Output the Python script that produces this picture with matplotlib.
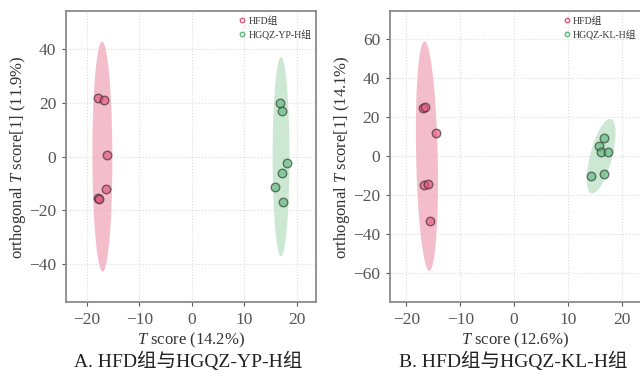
import numpy as np
import matplotlib
matplotlib.use("Agg")
import matplotlib.pyplot as plt
from matplotlib.lines import Line2D

plt.rcParams['font.family'] = ['Liberation Serif', 'Noto Sans CJK SC']
plt.rcParams['mathtext.fontset'] = 'custom'
plt.rcParams['mathtext.rm'] = 'Liberation Serif'
plt.rcParams['mathtext.it'] = 'Liberation Serif:italic'

# panel A: HFD vs HGQZ-YP-H
a_hfd_x = [-17.9, -16.8, -16.1, -16.3, -17.8, -17.7]
a_hfd_y = [21.7, 20.9, 0.5, -12.1, -15.4, -15.6]
a_yp_x = [16.9, 17.1, 18.1, 17.1, 15.9, 17.4]
a_yp_y = [19.8, 16.9, -2.4, -6.0, -11.2, -16.9]

# panel B: HFD vs HGQZ-KL-H
b_hfd_x = [-16.9, -16.5, -14.5, -16.8, -16.0, -15.6]
b_hfd_y = [24.6, 25.3, 12.1, -14.7, -14.2, -33.3]
b_kl_x = [16.7, 15.8, 16.2, 17.4, 14.2, 16.6]
b_kl_y = [9.2, 5.3, 2.0, 2.0, -10.0, -9.4]

# confidence ellipses: center x, center y, half width, half height, x shift at top
a_hfd_ell = [-17.05, 0.0, 1.9, 42.7, -0.05]
a_yp_ell = [17.0, 0.0, 1.6, 37.0, 0.0]
b_hfd_ell = [-16.2, 0.0, 2.0, 59.0, -0.45]
b_kl_ell = [16.15, 0.0, 2.1, 19.2, 1.65]

pink_fill = '#f1b2c3'
pink_pt = '#e2577e'
green_fill = '#c3e5cc'
green_pt = '#5cb77a'


def ellipse_xy(e):
    cx, cy, w, h, dx = e
    t = np.linspace(0, 2 * np.pi, 200)
    return cx + w * np.cos(t) + dx * np.sin(t), cy + h * np.sin(t)


def draw_panel(ax, g1, g2, e1, e2, names, xlab, ylab, ylim, yticks, xlim):
    for e, c in [(e1, pink_fill), (e2, green_fill)]:
        ex, ey = ellipse_xy(e)
        ax.fill(ex, ey, color=c, alpha=0.85, lw=0, zorder=1)
    ax.scatter(g1[0], g1[1], s=38, c=pink_pt, alpha=0.65, edgecolors='#3a2a2e',
               linewidths=1.0, zorder=3)
    ax.scatter(g2[0], g2[1], s=38, c=green_pt, alpha=0.65, edgecolors='#2e3a30',
               linewidths=1.0, zorder=3)
    ax.set_xlim(xlim)
    ax.set_ylim(ylim)
    ax.set_xticks([-20, -10, 0, 10, 20])
    ax.set_yticks(yticks)
    ax.grid(color='#dcdcdc', linestyle=':', linewidth=0.8, zorder=0)
    ax.set_axisbelow(True)
    for s in ax.spines.values():
        s.set_color('#8a8a8a')
        s.set_linewidth(1.3)
    ax.tick_params(labelsize=12.5, labelcolor='#555555', color='#555555',
                   length=3, width=0.8, pad=4)
    ax.set_xlabel(xlab, fontsize=12, color='#333333', labelpad=2)
    ax.set_ylabel(ylab, fontsize=12, color='#333333', labelpad=1)
    handles = [Line2D([], [], marker='o', ls='', mfc='none', mec=pink_pt, ms=3.2, mew=1),
               Line2D([], [], marker='o', ls='', mfc='none', mec=green_pt, ms=3.2, mew=1)]
    ax.legend(handles, names, loc='upper right', frameon=False, fontsize=7,
              handletextpad=0.0, borderaxespad=0.1, labelspacing=0.45,
              handlelength=1.3, labelcolor='#333333')


fig = plt.figure(figsize=(6.4, 3.72), dpi=100)
ax1 = fig.add_axes([0.103, 0.188, 0.391, 0.782])
ax2 = fig.add_axes([0.609, 0.188, 0.393, 0.782])

draw_panel(ax1, (a_hfd_x, a_hfd_y), (a_yp_x, a_yp_y), a_hfd_ell, a_yp_ell,
           ['HFD组', 'HGQZ-YP-H组'], r'$T$ score (14.2%) ',
           r'orthogonal $T$ score[1] (11.9%) ', (-54, 54), [-40, -20, 0, 20, 40], (-24, 23.7))
draw_panel(ax2, (b_hfd_x, b_hfd_y), (b_kl_x, b_kl_y), b_hfd_ell, b_kl_ell,
           ['HFD组', 'HGQZ-KL-H组'], r'$T$ score (12.6%) ',
           r'orthogonal $T$ score[1] (14.1%) ', (-75, 74.5), [-60, -40, -20, 0, 20, 40, 60], (-23.1, 23.6))

fig.text(0.294, 0.028, 'A. HFD组与HGQZ-YP-H组', ha='center', va='center',
         fontsize=14, color='#222222')
fig.text(0.802, 0.028, 'B. HFD组与HGQZ-KL-H组', ha='center', va='center',
         fontsize=14, color='#222222')

fig.savefig('out.png', dpi=100)
